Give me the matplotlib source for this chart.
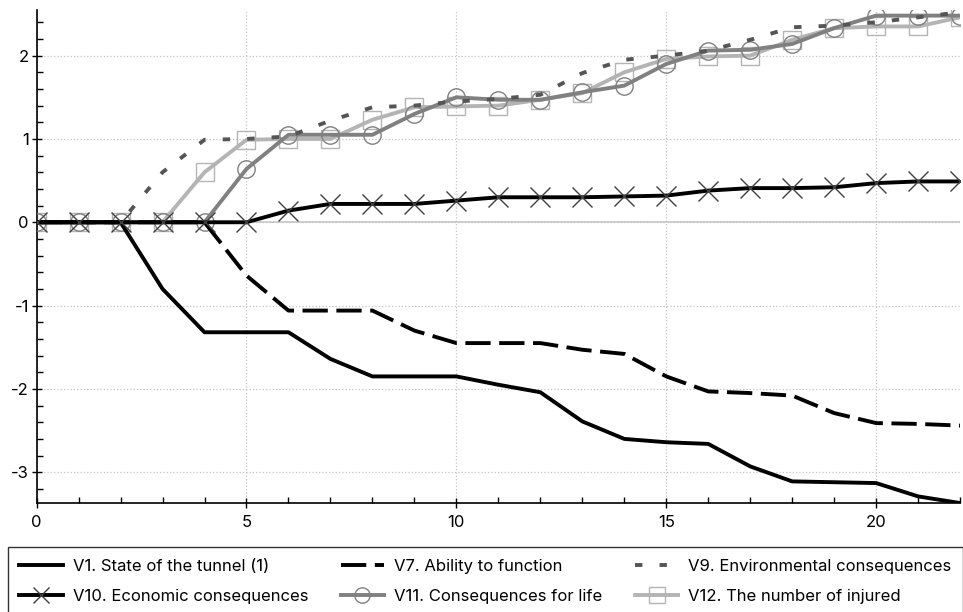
import numpy as np
import matplotlib.pyplot as plt
from matplotlib.ticker import MultipleLocator

plt.rcParams["font.family"] = ["Inter", "DejaVu Sans"]
plt.rcParams["axes.unicode_minus"] = False

# Data
steps = list(range(23))
v1 = [0, 0, 0, -0.80, -1.32, -1.32, -1.32, -1.64, -1.85, -1.85, -1.85, -1.95,
      -2.04, -2.39, -2.60, -2.64, -2.66, -2.93, -3.11, -3.12, -3.13, -3.29, -3.37]
v7 = [0, 0, 0, 0, 0, -0.64, -1.06, -1.06, -1.06, -1.30, -1.45, -1.45,
      -1.45, -1.53, -1.58, -1.85, -2.03, -2.05, -2.08, -2.29, -2.41, -2.42, -2.44]
v9 = [0, 0, 0, 0.60, 0.99, 1.00, 1.03, 1.22, 1.38, 1.40, 1.45, 1.48,
      1.53, 1.79, 1.95, 2.00, 2.06, 2.19, 2.34, 2.36, 2.40, 2.46, 2.52]
v10 = [0, 0, 0, 0, 0, 0, 0.14, 0.22, 0.22, 0.22, 0.26, 0.30,
       0.30, 0.30, 0.31, 0.32, 0.38, 0.41, 0.41, 0.42, 0.47, 0.49, 0.49]
v11 = [0, 0, 0, 0, 0, 0.64, 1.05, 1.05, 1.05, 1.30, 1.50, 1.47,
       1.47, 1.56, 1.64, 1.90, 2.06, 2.07, 2.14, 2.33, 2.48, 2.48, 2.48]
v12 = [0, 0, 0, 0, 0.60, 0.99, 1.00, 1.00, 1.23, 1.38, 1.39, 1.40,
       1.47, 1.55, 1.80, 1.96, 1.99, 2.00, 2.19, 2.33, 2.35, 2.35, 2.46]
labels = ["V1. State of the tunnel (1)", "V7. Ability to function",
          "V9. Environmental consequences", "V10. Economic consequences",
          "V11. Consequences for life", "V12. The number of injured"]

fig = plt.figure(figsize=(9.63, 6.12), dpi=100)
ax = fig.add_axes([0.038, 0.178, 0.959, 0.806])

lw = 2.8
ax.axhline(0, color="#c8c8c8", lw=1.2, zorder=1)
l1, = ax.plot(steps, v1, color="black", lw=lw, label=labels[0], zorder=5)
l7, = ax.plot(steps, v7, color="black", lw=lw, dashes=(6.5, 2.2), label=labels[1], zorder=5)
l9, = ax.plot(steps, v9, color="#555555", lw=lw, dashes=(1.9, 4.4), label=labels[2], zorder=4)
l10, = ax.plot(steps, v10, color="black", lw=lw, marker="x", ms=15, mew=1.0,
               mec="#404040", label=labels[3], zorder=6)
l11, = ax.plot(steps, v11, color="#808080", lw=lw, marker="o", ms=12.5, mfc="none",
               mew=1.0, mec="#808080", label=labels[4], zorder=3)
l12, = ax.plot(steps, v12, color="#b4b4b4", lw=lw, marker="s", ms=13.5, mfc="none",
               mew=1.0, mec="#b4b4b4", label=labels[5], zorder=2)

ax.set_xlim(0, 22)
ax.set_ylim(-3.37, 2.55)
ax.xaxis.set_major_locator(MultipleLocator(5))
ax.xaxis.set_minor_locator(MultipleLocator(1))
ax.yaxis.set_major_locator(MultipleLocator(1))
ax.yaxis.set_minor_locator(MultipleLocator(0.2))
ax.grid(True, which="major", color="#c4c4c4", linestyle=":", lw=0.9)
ax.spines["top"].set_visible(False)
ax.spines["right"].set_visible(False)
for s in ("left", "bottom"):
    ax.spines[s].set_linewidth(1.2)
ax.tick_params(which="major", direction="inout", length=7, width=1, labelsize=12)
ax.tick_params(which="minor", direction="in", length=4, width=1)
ax.tick_params(axis="x", pad=5)
ax.tick_params(axis="y", pad=2)

# row-wise order like the original: V1 V7 V9 / V10 V11 V12
order = [l1, l10, l7, l11, l9, l12]
leg = fig.legend(order, [h.get_label() for h in order],
                 loc="upper left", bbox_to_anchor=(0.008, 0.0, 0.992, 0.1062),
                 mode="expand", ncol=3, frameon=True, fancybox=False,
                 edgecolor="black", fontsize=12, handlelength=2.6,
                 handletextpad=0.6, borderaxespad=0, borderpad=0.69,
                 columnspacing=1.0, labelspacing=0.93)
leg.get_frame().set_linewidth(1.0)
for h in leg.legend_handles:
    h.set_markersize(11)

fig.savefig("out.png", dpi=100)
